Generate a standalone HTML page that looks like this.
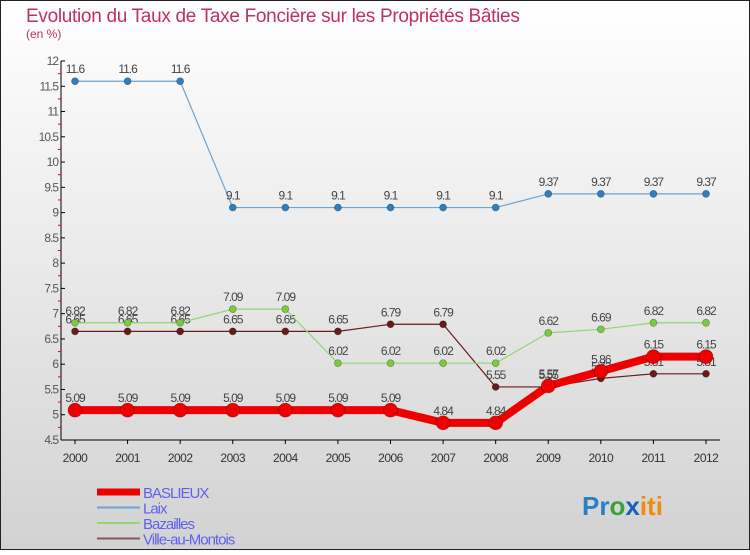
<!DOCTYPE html>
<html><head><meta charset="utf-8"><style>
html,body{margin:0;padding:0}
body{width:750px;height:550px;overflow:hidden;font-family:"Liberation Sans",sans-serif}
</style></head><body>
<svg id="chart" width="750" height="550" xmlns="http://www.w3.org/2000/svg">
<defs><linearGradient id="bg" x1="0" y1="0" x2="0" y2="1"><stop offset="0" stop-color="#ffffff"/><stop offset="1" stop-color="#d2d2d2"/></linearGradient></defs>
<rect x="0.5" y="0.5" width="749" height="549" fill="url(#bg)" stroke="#222"/>
<text x="26" y="22" font-size="19" fill="#c0305e" letter-spacing="-0.3">Evolution du Taux de Taxe Foncière sur les Propriétés Bâties</text>
<text x="26" y="38" font-size="12" fill="#c0305e">(en %)</text>
<g id="axes"></g><g id="series"></g><g id="legend"></g>
<text x="582" y="515" font-size="26" font-weight="bold"><tspan fill="#2a7fc9">Pr</tspan><tspan fill="#3aa23a">o</tspan><tspan fill="#1a5fc0">x</tspan><tspan fill="#f08a10">iti</tspan></text>
</svg>
<script>
const years=[2000,2001,2002,2003,2004,2005,2006,2007,2008,2009,2010,2011,2012];
const yTicks=[4.5,5,5.5,6,6.5,7,7.5,8,8.5,9,9.5,10,10.5,11,11.5,12];
const basl=[5.09,5.09,5.09,5.09,5.09,5.09,5.09,4.84,4.84,5.57,5.86,6.15,6.15];
const laix=[11.6,11.6,11.6,9.1,9.1,9.1,9.1,9.1,9.1,9.37,9.37,9.37,9.37];
const baz=[6.82,6.82,6.82,7.09,7.09,6.02,6.02,6.02,6.02,6.62,6.69,6.82,6.82];
const ville=[6.65,6.65,6.65,6.65,6.65,6.65,6.79,6.79,5.55,5.55,5.72,5.81,5.81];
const names=["BASLIEUX","Laix","Bazailles","Ville-au-Montois"];
const NS="http://www.w3.org/2000/svg";
function X(i){return 75+i*(706-75)/12;}
function Y(v){return 61+(12-v)*(379/7.5);}
function mk(tag,attrs,parent,txt){const e=document.createElementNS(NS,tag);for(const k in attrs)e.setAttribute(k,attrs[k]);if(txt!==undefined)e.textContent=txt;parent.appendChild(e);return e;}
const ax=document.getElementById('axes');
let e=mk('line',{x1:61,y1:61,x2:61,y2:440,stroke:'#000'},ax);


e=mk('line',{x1:61,y1:440,x2:720,y2:440,stroke:'#000'},ax);


yTicks.forEach(v=>{
  mk('line',{x1:61,y1:Y(v),x2:65,y2:Y(v),stroke:'#000'},ax);
  if(v<12)mk('line',{x1:58,y1:Y(v+0.25),x2:61,y2:Y(v+0.25),stroke:'#e00'},ax);
  e=mk('text',{x:58,y:Y(v)+4,'font-size':12,'text-anchor':'end',fill:'#555','letter-spacing':'-1'},ax,String(v));
  
  
});
years.forEach((yr,i)=>{
  mk('line',{x1:X(i),y1:440,x2:X(i),y2:444,stroke:'#000'},ax);
  e=mk('text',{x:X(i),y:462,'font-size':12,'text-anchor':'middle',fill:'#333','letter-spacing':'-0.5'},ax,String(yr));
  
  
});
const sg=document.getElementById('series');
const defs=[[ville,'#6b1a1a','#6b1a1a',1.2,3.5,'series-ville-au-montois'],[baz,'#90d870','#7acc3a',1.2,3.5,'series-bazailles'],[laix,'#6aa4d0','#2f7fc0',1.2,3.5,'series-laix'],[basl,'#ee0000','#ee0000',8,7,'series-baslieux']];
defs.forEach(([d,lc,pc,w,r,nm])=>{
  const g=mk('g',{},sg);
  
  
  mk('polyline',{points:d.map((v,i)=>X(i)+','+Y(v)).join(' '),fill:'none',stroke:lc,'stroke-width':w,'stroke-linejoin':'round'},g);
  d.forEach((v,i)=>{
    const c=mk('circle',{cx:X(i),cy:Y(v),r:r,fill:pc,stroke:'rgba(0,0,0,0.35)','stroke-width':0.7},g);
    
    
    const t=mk('text',{x:X(i),y:Y(v)-8,'font-size':12,'text-anchor':'middle',fill:'#444','letter-spacing':'-1'},g,String(v));
    
    
  });
});
const lg=document.getElementById('legend');
const lcol=['#ee0000','#6aa4d0','#90d870','#8a5a5a'];const lw=[7,2,2,2];
names.forEach((n,i)=>{
  const g=mk('g',{},lg);
  
  
  const y=492+i*15.5;
  mk('line',{x1:97,y1:y,x2:140,y2:y,stroke:lcol[i],'stroke-width':lw[i]},g);
  mk('text',{x:143,y:y+6,'font-size':15,fill:'#6060ee','letter-spacing':'-1'},g,n);
});
</script>
</body></html>
